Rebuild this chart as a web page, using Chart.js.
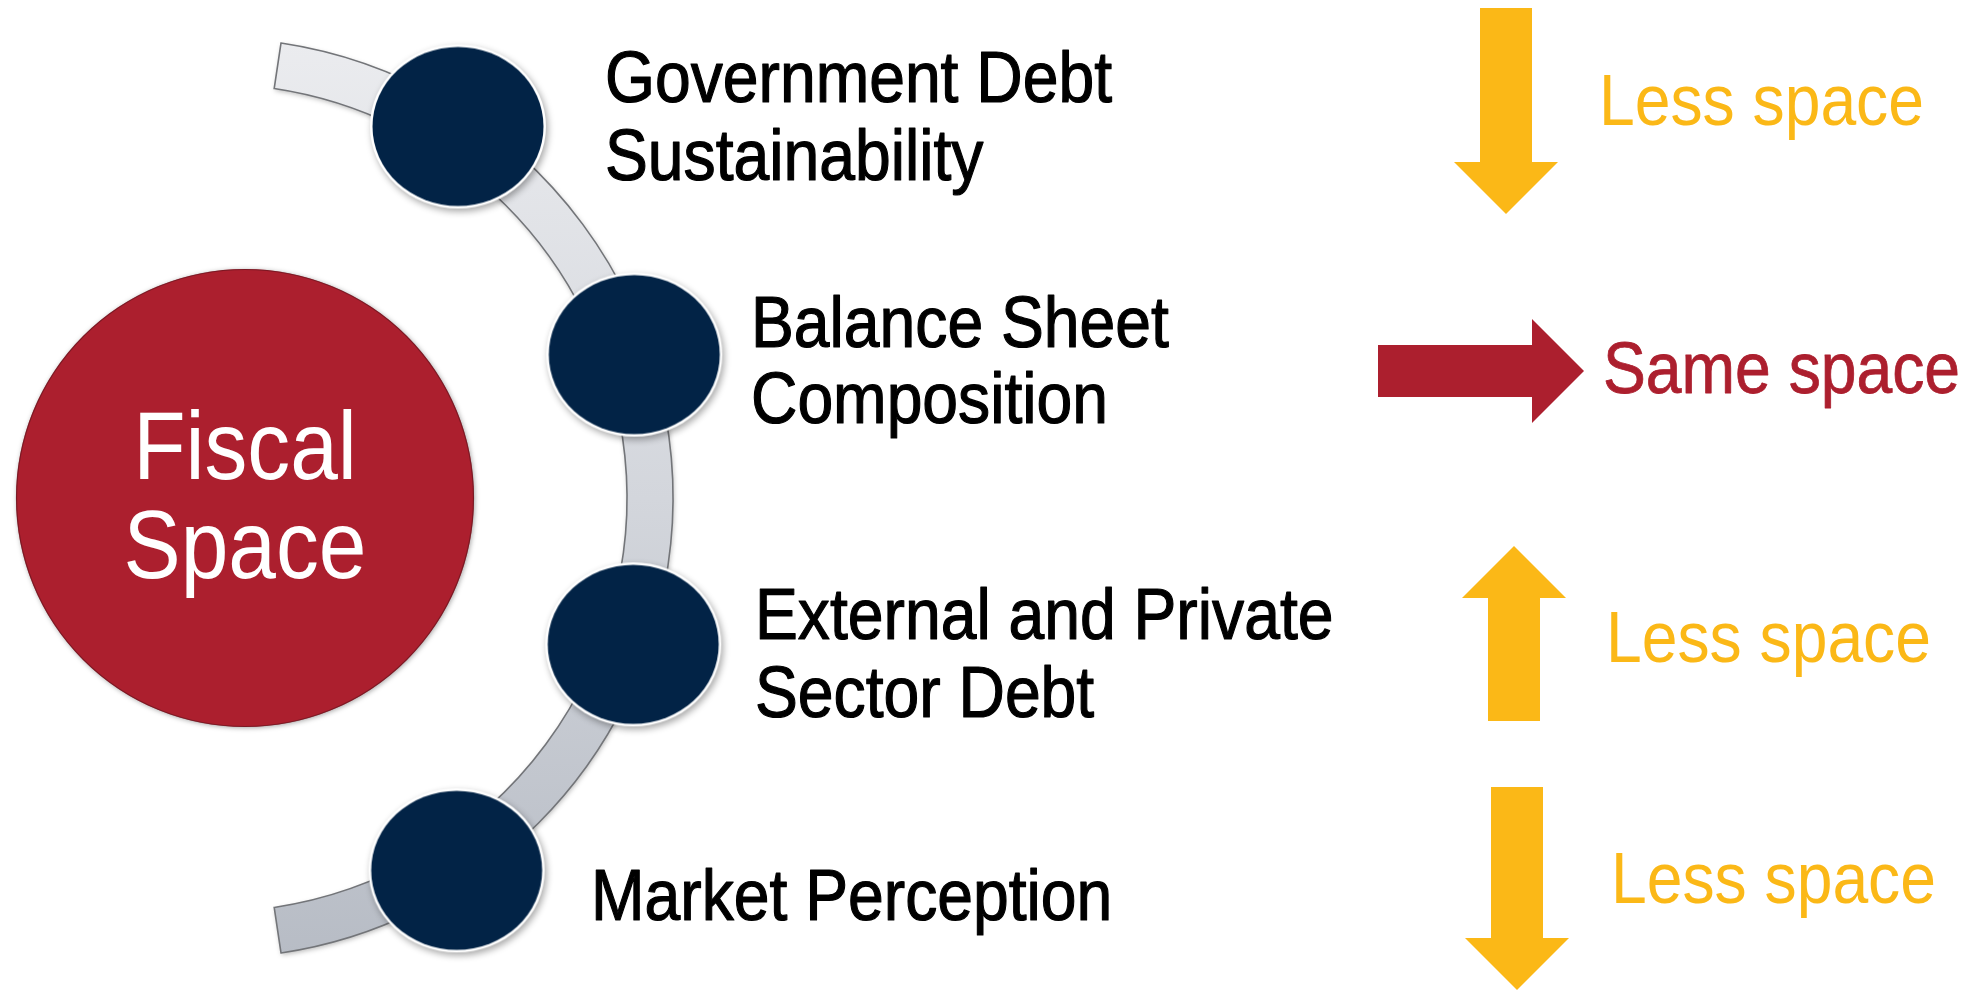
<!DOCTYPE html>
<html>
<head>
<meta charset="utf-8">
<style>
  html, body { margin: 0; padding: 0; background: #ffffff; }
  #wrap { width: 1980px; height: 990px; }
</style>
<script src="https://cdn.jsdelivr.net/npm/chart.js@4.4.1/dist/chart.umd.min.js"></script>
</head>
<body>
<div id="wrap"><canvas id="c" width="1980" height="990"></canvas></div>
<script>
// ---------- content ----------
const centerLabel = ['Fiscal', 'Space'];
const factorLabels = [
  ['Government Debt', 'Sustainability'],
  ['Balance Sheet', 'Composition'],
  ['External and Private', 'Sector Debt'],
  ['Market Perception']
];
const effectDirections = ['down', 'right', 'up', 'down'];
const effectLabels = ['Less space', 'Same space', 'Less space', 'Less space'];

// ---------- layout (positions in the 1980 x 990 frame) ----------
const layout = {
  center: { x: 245, y: 498, r: 229 },
  arc: { cx: 213, cy: 498, r: 437, width: 46, endDeg: 81.5 },
  nodeRadiusOnArc: 445,
  nodeAngles: [-56.6, -18.8, 19.2, 56.8],
  nodeSize: { rx: 88, ry: 82 },
  labelX: [605, 751, 755, 591],
  labelBaselines: [[102, 180], [347, 423], [639, 717], [920]],
  centerBaselines: [479, 578],
  arrows: [
    { tail: [1506, 8],   tip: [1506, 214] },
    { tail: [1378, 371], tip: [1584, 371] },
    { tail: [1514, 721], tip: [1514, 546] },
    { tail: [1517, 787], tip: [1517, 990] }
  ],
  arrowShaftHalf: 26, arrowHeadHalf: 52, arrowHeadLen: 52,
  effectX: [1599, 1603, 1606, 1611],
  effectBaselines: [125, 393, 662, 903]
};

// ---------- styles ----------
const COLORS = {
  red: '#AC1F2E', navy: '#022346', yellow: '#FBB817', text: '#000000'
};
const FONT_FAMILY = '"Liberation Sans Narrow", "Liberation Sans", Arial, sans-serif';

function makeNodeImage(rx, ry) {
  const pad = 14;
  const cv = document.createElement('canvas');
  cv.width = Math.round(rx * 2 + pad * 2);
  cv.height = Math.round(ry * 2 + pad * 2);
  const g = cv.getContext('2d');
  g.save();
  g.shadowColor = 'rgba(0,0,0,0.35)';
  g.shadowBlur = 7;
  g.shadowOffsetX = 2;
  g.shadowOffsetY = 3;
  g.beginPath();
  g.ellipse(cv.width / 2, cv.height / 2, rx, ry, 0, 0, Math.PI * 2);
  g.fillStyle = '#ffffff';
  g.fill();
  g.restore();
  g.beginPath();
  g.ellipse(cv.width / 2, cv.height / 2, rx - 2.5, ry - 2.5, 0, 0, Math.PI * 2);
  g.fillStyle = COLORS.navy;
  g.fill();
  return cv;
}
function makeCenterImage(r) {
  const pad = 12;
  const cv = document.createElement('canvas');
  cv.width = Math.round(r * 2 + pad * 2);
  cv.height = cv.width;
  const g = cv.getContext('2d');
  g.save();
  g.shadowColor = 'rgba(0,0,0,0.35)';
  g.shadowBlur = 5;
  g.shadowOffsetX = 1;
  g.shadowOffsetY = 1;
  g.beginPath();
  g.arc(cv.width / 2, cv.height / 2, r, 0, Math.PI * 2);
  g.fillStyle = COLORS.red;
  g.fill();
  g.restore();
  g.beginPath();
  g.arc(cv.width / 2, cv.height / 2, r - 0.5, 0, Math.PI * 2);
  g.strokeStyle = 'rgba(90,20,28,0.6)';
  g.lineWidth = 1.2;
  g.stroke();
  return cv;
}

const nodePoints = layout.nodeAngles.map(a => {
  const t = a * Math.PI / 180;
  return { x: layout.arc.cx + layout.nodeRadiusOnArc * Math.cos(t),
           y: layout.arc.cy + layout.nodeRadiusOnArc * Math.sin(t) };
});

let stretch = 1;
function setFont(ctx, px) { ctx.font = px + 'px ' + FONT_FAMILY; }
function computeStretch(ctx) {
  setFont(ctx, 72);
  const w = ctx.measureText('Government Debt').width;
  stretch = 507 / w;
}
function drawText(ctx, txt, x, y, px, color, align, weight) {
  setFont(ctx, px);
  ctx.save();
  ctx.fillStyle = color;
  ctx.strokeStyle = color;
  ctx.lineJoin = 'round';
  ctx.lineWidth = weight || 0;
  ctx.textBaseline = 'alphabetic';
  ctx.textAlign = align || 'left';
  ctx.translate(x, y);
  ctx.scale(stretch, 1);
  ctx.fillText(txt, 0, 0);
  if (weight) ctx.strokeText(txt, 0, 0);
  ctx.restore();
}

const bandPlugin = {
  id: 'band',
  beforeDatasetsDraw(chart) {
    const { ctx, scales: { x, y } } = chart;
    const a = layout.arc;
    const cx = x.getPixelForValue(a.cx), cy = y.getPixelForValue(a.cy);
    const unit = x.getPixelForValue(1) - x.getPixelForValue(0);
    const rOut = (a.r + a.width / 2) * unit, rIn = (a.r - a.width / 2) * unit;
    const e = a.endDeg * Math.PI / 180;
    ctx.save();
    ctx.beginPath();
    ctx.arc(cx, cy, rOut, -e, e, false);
    ctx.arc(cx, cy, rIn, e, -e, true);
    ctx.closePath();
    const grad = ctx.createLinearGradient(0, cy - rOut, 0, cy + rOut);
    grad.addColorStop(0, '#ebecef');
    grad.addColorStop(0.5, '#d3d6dc');
    grad.addColorStop(1, '#b7bcc5');
    ctx.shadowColor = 'rgba(0,0,0,0.28)';
    ctx.shadowBlur = 5;
    ctx.shadowOffsetX = 1;
    ctx.shadowOffsetY = 2;
    ctx.fillStyle = grad;
    ctx.fill();
    ctx.shadowColor = 'transparent';
    ctx.strokeStyle = '#737579';
    ctx.lineWidth = 1.6;
    ctx.stroke();
    ctx.restore();
  }
};

const annotationPlugin = {
  id: 'annot',
  afterDatasetsDraw(chart) {
    const { ctx, scales: { x, y } } = chart;
    computeStretch(ctx);
    centerLabel.forEach((t, i) => {
      drawText(ctx, t, x.getPixelForValue(layout.center.x), y.getPixelForValue(layout.centerBaselines[i]), 96, '#ffffff', 'center', 0);
    });
    factorLabels.forEach((lines, i) => {
      lines.forEach((t, j) => {
        drawText(ctx, t, x.getPixelForValue(layout.labelX[i]), y.getPixelForValue(layout.labelBaselines[i][j]), 72, COLORS.text, 'left', 1.2);
      });
    });
    effectDirections.forEach((dir, i) => {
      const col = dir === 'right' ? COLORS.red : COLORS.yellow;
      const ar = layout.arrows[i];
      const tx = x.getPixelForValue(ar.tail[0]), ty = y.getPixelForValue(ar.tail[1]);
      const px = x.getPixelForValue(ar.tip[0]), py = y.getPixelForValue(ar.tip[1]);
      const len = Math.hypot(px - tx, py - ty);
      const ux = (px - tx) / len, uy = (py - ty) / len;
      const nx = -uy, ny = ux;
      const s = layout.arrowShaftHalf, h = layout.arrowHeadHalf, hl = layout.arrowHeadLen;
      const bx = px - ux * hl, by = py - uy * hl;
      ctx.save();
      ctx.beginPath();
      ctx.moveTo(tx + nx * s, ty + ny * s);
      ctx.lineTo(bx + nx * s, by + ny * s);
      ctx.lineTo(bx + nx * h, by + ny * h);
      ctx.lineTo(px, py);
      ctx.lineTo(bx - nx * h, by - ny * h);
      ctx.lineTo(bx - nx * s, by - ny * s);
      ctx.lineTo(tx - nx * s, ty - ny * s);
      ctx.closePath();
      ctx.fillStyle = col;
      ctx.fill();
      ctx.restore();
      drawText(ctx, effectLabels[i], x.getPixelForValue(layout.effectX[i]), y.getPixelForValue(layout.effectBaselines[i]), 72, col, 'left', dir === 'right' ? 0.8 : 0);
    });
  }
};

new Chart(document.getElementById('c'), {
  type: 'scatter',
  data: {
    datasets: [
      {
        label: 'Factors',
        data: nodePoints,
        pointStyle: makeNodeImage(layout.nodeSize.rx, layout.nodeSize.ry),
        pointRadius: 85,
        pointHoverRadius: 85,
        clip: false
      },
      {
        label: centerLabel.join(' '),
        data: [{ x: layout.center.x, y: layout.center.y }],
        pointStyle: makeCenterImage(layout.center.r),
        pointRadius: layout.center.r,
        pointHoverRadius: layout.center.r,
        clip: false
      }
    ]
  },
  options: {
    responsive: false,
    animation: false,
    events: [],
    layout: { padding: 0, autoPadding: false },
    plugins: { legend: { display: false }, tooltip: { enabled: false } },
    scales: {
      x: { type: 'linear', min: 0, max: 1980, display: false },
      y: { type: 'linear', min: 0, max: 990, reverse: true, display: false }
    }
  },
  plugins: [bandPlugin, annotationPlugin]
});
</script>
</body>
</html>
